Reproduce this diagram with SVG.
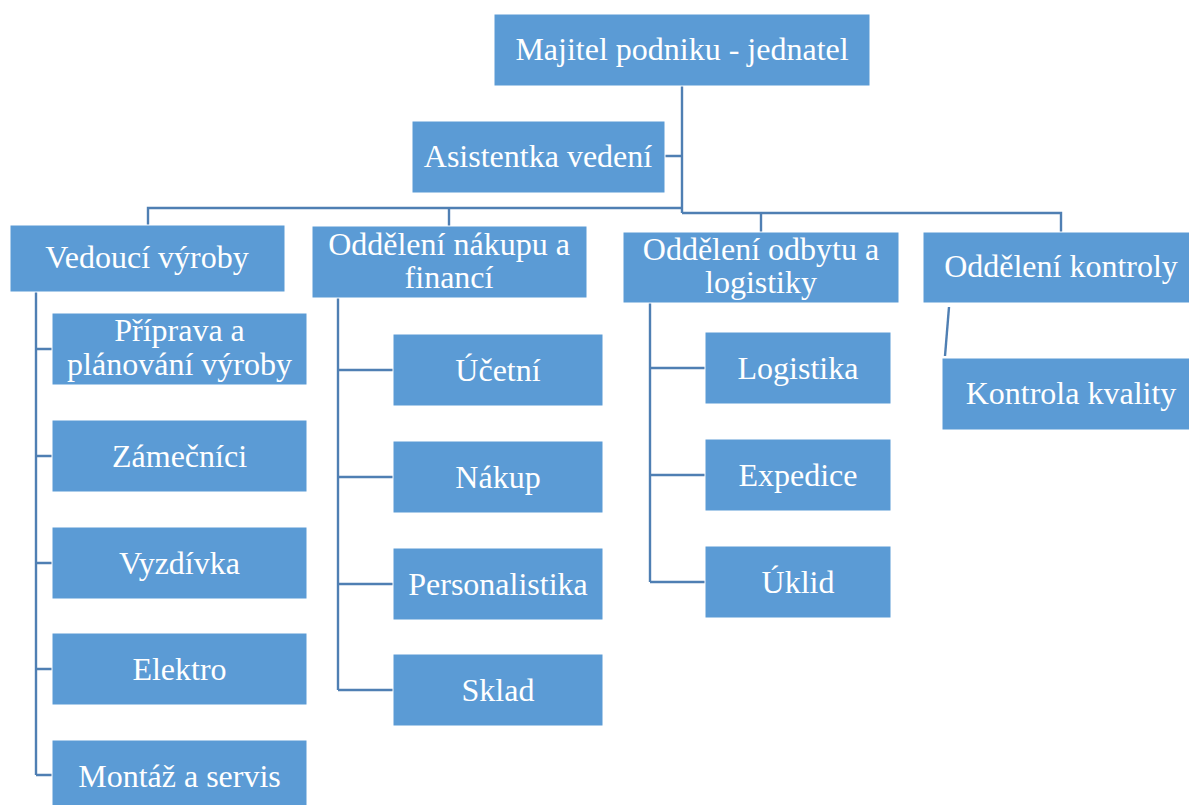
<svg xmlns="http://www.w3.org/2000/svg" width="1189" height="805" viewBox="0 0 1189 805">
<style>
.box{fill:#5B9BD5;stroke:#ffffff;stroke-width:1}
.t{font-family:'Liberation Serif','Times New Roman',serif;font-size:32px;fill:#ffffff;text-anchor:middle}
.c{fill:none;stroke:#4F7FB3;stroke-width:2.4}
</style>
<rect width="1189" height="805" fill="#ffffff"/>
<g id="connectors">
<path class="c" d="M682,86V213M665,156H682M148,225V208H682M449,208V226M682,213H1061V232M761,213V232"/>
<path class="c" d="M36,292V775M36,349H52M36,456H52M36,563H52M36,669H52M36,775H52"/>
<path class="c" d="M338,298V690M338,370H393M338,477H393M338,584H393M338,690H393"/>
<path class="c" d="M650,303V582M650,368H705M650,475H705M650,582H705"/>
<path class="c" d="M949,307L945,356"/>
</g>
<g font-family="Liberation Serif, serif">
<g id="n-majitel"><rect class="box" x="494" y="14" width="376" height="72"/><text class="t" x="682" y="60">Majitel podniku - jednatel</text></g>
<g id="n-asistentka"><rect class="box" x="412" y="121" width="253" height="72"/><text class="t" x="538" y="167">Asistentka vedení</text></g>
<g id="n-vedouci"><rect class="box" x="10" y="225" width="275" height="67"/><text class="t" x="147" y="268">Vedoucí výroby</text></g>
<g id="n-nakup-fin"><rect class="box" x="312" y="226" width="275" height="72"/><text class="t" x="449" y="255">Oddělení nákupu a</text><text class="t" x="449" y="288">financí</text></g>
<g id="n-odbyt"><rect class="box" x="623" y="232" width="276" height="71"/><text class="t" x="761" y="260">Oddělení odbytu a</text><text class="t" x="761" y="293">logistiky</text></g>
<g id="n-kontroly"><rect class="box" x="923" y="232" width="276" height="71"/><text class="t" x="1061" y="277">Oddělení kontroly</text></g>
<g id="n-kvalita"><rect class="box" x="942" y="358" width="258" height="72"/><text class="t" x="1071" y="404">Kontrola kvality</text></g>
<g id="n-priprava"><rect class="box" x="52" y="313" width="255" height="72"/><text class="t" x="179.5" y="341">Příprava a</text><text class="t" x="179.5" y="375">plánování výroby</text></g>
<g id="n-zamecnici"><rect class="box" x="52" y="420" width="255" height="72"/><text class="t" x="179.5" y="467">Zámečníci</text></g>
<g id="n-vyzdivka"><rect class="box" x="52" y="527" width="255" height="72"/><text class="t" x="179.5" y="574">Vyzdívka</text></g>
<g id="n-elektro"><rect class="box" x="52" y="633" width="255" height="72"/><text class="t" x="179.5" y="680">Elektro</text></g>
<g id="n-montaz"><rect class="box" x="52" y="740" width="255" height="72"/><text class="t" x="179.5" y="787">Montáž a servis</text></g>
<g id="n-ucetni"><rect class="box" x="393" y="334" width="210" height="72"/><text class="t" x="498" y="381">Účetní</text></g>
<g id="n-nakup"><rect class="box" x="393" y="441" width="210" height="72"/><text class="t" x="498" y="488">Nákup</text></g>
<g id="n-personalistika"><rect class="box" x="393" y="548" width="210" height="72"/><text class="t" x="498" y="595">Personalistika</text></g>
<g id="n-sklad"><rect class="box" x="393" y="654" width="210" height="72"/><text class="t" x="498" y="701">Sklad</text></g>
<g id="n-logistika"><rect class="box" x="705" y="332" width="186" height="72"/><text class="t" x="798" y="379">Logistika</text></g>
<g id="n-expedice"><rect class="box" x="705" y="439" width="186" height="72"/><text class="t" x="798" y="486">Expedice</text></g>
<g id="n-uklid"><rect class="box" x="705" y="546" width="186" height="72"/><text class="t" x="798" y="593">Úklid</text></g>
</g>
</svg>
